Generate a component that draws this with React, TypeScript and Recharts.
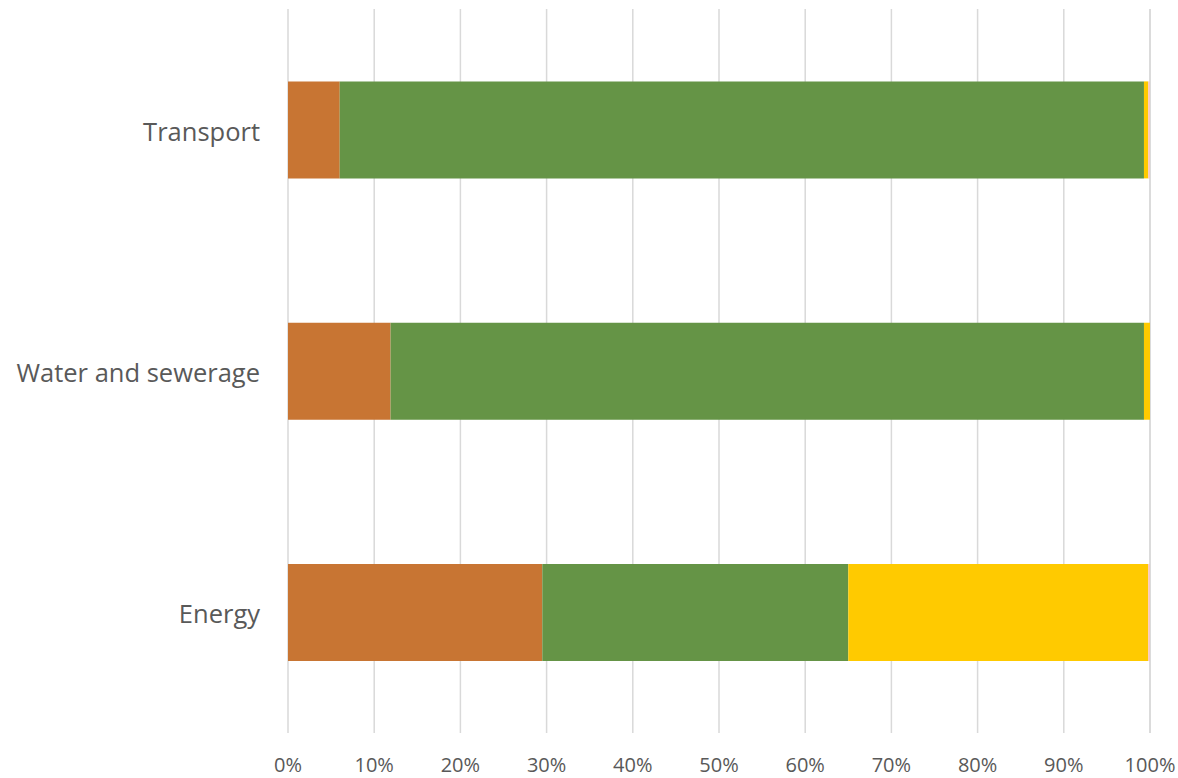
import { Bar, BarChart, CartesianGrid, XAxis, YAxis } from "recharts";

const sectors = ["Transport", "Water and sewerage", "Energy"];
const orangeShare = [6.0, 11.9, 29.5];
const greenShare = [93.3, 87.4, 35.5];
const yellowShare = [0.5, 0.7, 34.8];
const pinkShare = [0.2, 0.0, 0.2];
const percentTicks = [0, 10, 20, 30, 40, 50, 60, 70, 80, 90, 100];

const data = sectors.map((sector, i) => ({
  sector,
  orange: orangeShare[i],
  green: greenShare[i],
  yellow: yellowShare[i],
  pink: pinkShare[i],
}));

const font = "'Open Sans', sans-serif";

export default function App() {
  return (
    <div style={{ position: "absolute", left: 0, top: 0, background: "#fff" }}>
      <BarChart
        width={1178}
        height={778}
        data={data}
        layout="vertical"
        barCategoryGap="30%"
        margin={{ top: 9, right: 28, bottom: 0, left: 0 }}
      >
        <CartesianGrid horizontal={false} stroke="#d9d9d9" strokeWidth={1.5} />
        <XAxis
          type="number"
          domain={[0, 100]}
          ticks={percentTicks}
          tickFormatter={(v) => `${v}%`}
          axisLine={false}
          tickLine={false}
          tickMargin={19}
          height={45}
          interval={0}
          tick={{ fill: "#595959", fontSize: 20, fontFamily: font }}
        />
        <YAxis
          type="category"
          dataKey="sector"
          width={288}
          axisLine={false}
          tickLine={false}
          tickMargin={22}
          tick={{ fill: "#595959", fontSize: 25.5, fontFamily: font, dy: 2 }}
        />
        <Bar dataKey="orange" stackId="a" fill="#C87533" isAnimationActive={false} />
        <Bar dataKey="green" stackId="a" fill="#659446" isAnimationActive={false} />
        <Bar dataKey="yellow" stackId="a" fill="#FFCA00" isAnimationActive={false} />
        <Bar dataKey="pink" stackId="a" fill="#F4C7C3" isAnimationActive={false} />
      </BarChart>
    </div>
  );
}
